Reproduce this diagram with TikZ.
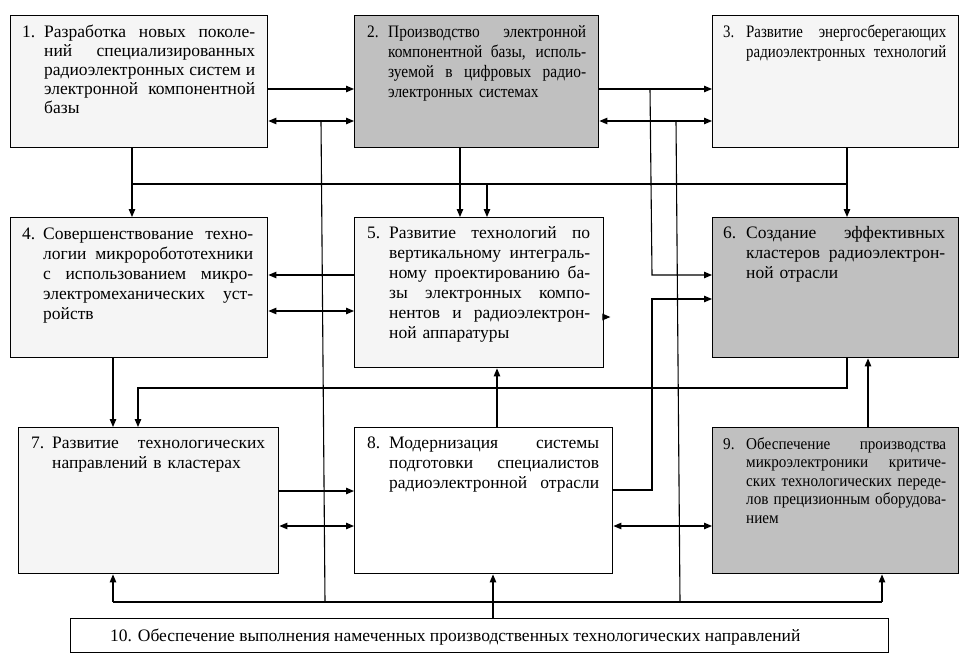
\documentclass[tikz,border=0pt]{standalone}
\usepackage{fontspec}
\setmainfont{Liberation Serif}
\newfontfamily\narrowA[FakeStretch=0.88]{Liberation Serif}
\newfontfamily\narrowC[FakeStretch=0.85]{Liberation Serif}
\newfontfamily\narrowB[FakeStretch=0.92]{Liberation Serif}
\usetikzlibrary{arrows.meta}
\definecolor{lightfill}{HTML}{F5F5F5}
\definecolor{darkfill}{HTML}{C0C0C0}
\newcommand\jl[1]{\makebox[\hsize][s]{\spaceskip=0pt\xspaceskip=0pt\relax #1}}
\newcommand\fs{\fontsize{17.5}{20}\selectfont}
\newcommand\fsa{\fontsize{17.5}{19.2}\selectfont}
\newcommand\fsn{\fontsize{16.5}{18.5}\selectfont}
\tikzset{
  box/.style={draw=black, line width=1.4pt, inner sep=0pt, anchor=north west},
  lightbox/.style={box, fill=lightfill},
  darkbox/.style={box, fill=darkfill},
  whitebox/.style={box, fill=white},
  num/.style={anchor=base west, inner sep=0pt, font=\fs},
  txt/.style={anchor=base west, inner sep=0pt, align=left, font=\fs},
  con/.style={line width=1.1pt, draw=black},
  arr/.style={con, -{Triangle[length=8pt,width=6.5pt]}},
  darr/.style={con, {Triangle[length=8pt,width=6.5pt]}-{Triangle[length=8pt,width=6.5pt]}}
}
\begin{document}
\begin{tikzpicture}[x=1pt,y=-1pt]
\fill[white] (0,0) rectangle (976,665);
\useasboundingbox (0,0) rectangle (976,665);

% boxes
\node[lightbox, minimum width=257pt, minimum height=132pt] (b1) at (10,15) {};
\node[darkbox,  minimum width=244pt, minimum height=132pt] (b2) at (354,15) {};
\node[lightbox, minimum width=246pt, minimum height=132pt] (b3) at (712,15) {};
\node[lightbox, minimum width=257pt, minimum height=140pt] (b4) at (10,217) {};
\node[lightbox, minimum width=249pt, minimum height=150pt] (b5) at (354,217) {};
\node[darkbox,  minimum width=246pt, minimum height=140pt] (b6) at (712,217) {};
\node[lightbox, minimum width=260pt, minimum height=146pt] (b7) at (18,427) {};
\node[whitebox, minimum width=258pt, minimum height=146pt] (b8) at (354,427) {};
\node[darkbox,  minimum width=246pt, minimum height=146pt] (b9) at (712,427) {};
\node[whitebox, minimum width=818pt, minimum height=34pt] (b10) at (70,618) {};

% texts
\node[num] (n1) at (22,37) {1.};
\node[txt, font=\fsa, text width=211pt] (t1) at (44,37) {\jl{Разработка новых поколе-}\\ \jl{ний специализированных}\\ \jl{радиоэлектронных систем и}\\ \jl{электронной компонентной}\\ базы};

\node[num, font=\narrowA\fs] (n2) at (367,37) {2.};
\node[txt, font=\narrowA\fs, text width=198pt] (t2) at (388,37) {\jl{Производство электронной}\\ \jl{компонентной базы, исполь-}\\ \jl{зуемой в цифровых радио-}\\ электронных системах};

\node[num, font=\narrowC\fs] (n3) at (723,37) {3.};
\node[txt, font=\narrowC\fs, text width=200pt] (t3) at (746,37) {\jl{Развитие энергосберегающих}\\ \jl{радиоэлектронных технологий}};

\node[num] (n4) at (22,239) {4.};
\node[txt, text width=210pt] (t4) at (43,239) {\jl{Совершенствование техно-}\\ \jl{логии микроробототехники}\\ \jl{с использованием микро-}\\ \jl{электромеханических уст-}\\ ройств};

\node[num] (n5) at (367,238) {5.};
\node[txt, text width=201pt] (t5) at (389,238) {\jl{Развитие технологий по}\\ \jl{вертикальному интеграль-}\\ \jl{ному проектированию ба-}\\ \jl{зы электронных компо-}\\ \jl{нентов и радиоэлектрон-}\\ ной аппаратуры};

\node[num] (n6) at (723,238) {6.};
\node[txt, text width=199pt] (t6) at (746,238) {\jl{Создание эффективных}\\ \jl{кластеров радиоэлектрон-}\\ ной отрасли};

\node[num] (n7) at (31,448) {7.};
\node[txt, text width=213pt] (t7) at (52,448) {\jl{Развитие технологических}\\ направлений в кластерах};

\node[num] (n8) at (367,448) {8.};
\node[txt, text width=210pt] (t8) at (389,448) {\jl{Модернизация системы}\\ \jl{подготовки специалистов}\\ \jl{радиоэлектронной отрасли}};

\node[num, font=\narrowB\fsn] (n9) at (723,449) {9.};
\node[txt, font=\narrowB\fsn, text width=200pt] (t9) at (746,449) {\jl{Обеспечение производства}\\ \jl{микроэлектроники критиче-}\\ \jl{ских технологических переде-}\\ \jl{лов прецизионным оборудова-}\\ нием};

\node[anchor=base west, inner sep=0pt, font=\fs] (t10) at (110,641) {10. Обеспечение выполнения намеченных производственных технологических направлений};

% coordinates
\coordinate (h1) at (132,184);
\coordinate (h2) at (847,184);
\coordinate (h3) at (487,184);
\coordinate (v1t) at (321,121);
\coordinate (v1b) at (325,602);
\coordinate (v2t) at (676,121);
\coordinate (v2b) at (680,602);
\coordinate (k1) at (650,89);
\coordinate (k2) at (652,275);
\coordinate (k3) at (652,490);
\coordinate (k4) at (652,299);
\coordinate (m1) at (847,388);
\coordinate (m2) at (138,388);
\coordinate (bl) at (113,602);
\coordinate (br) at (882,602);
\coordinate (bm) at (493,602);

% connectors top row
\draw[arr] (b1.east |- 0,89) -- (b2.west |- 0,89);
\draw[darr] (b1.east |- 0,121) -- (b2.west |- 0,121);
\draw[arr] (b2.east |- 0,89) -- (b3.west |- 0,89);
\draw[darr] (b2.east |- 0,121) -- (b3.west |- 0,121);
\draw[con] (v1t) -- (v1b);
\draw[con] (v2t) -- (v2b);

% bus at y=184
\draw[con] (h1) -- (h2);
\draw[arr] (b1.south -| h1) -- (b4.north -| h1);
\draw[arr] (b2.south -| 460,0) -- (b5.north -| 460,0);
\draw[arr] (h3) -- (b5.north -| h3);
\draw[arr] (b3.south -| h2) -- (b6.north -| h2);

% to box 6
\draw[arr] (k1) -- (k2) -- (b6.west |- k2);
\draw[arr] (b8.east |- k3) -- (k3) -- (k4) -- (b6.west |- k4);

% middle row
\draw[arr] (b5.west |- 0,275) -- (b4.east |- 0,275);
\draw[darr] (b4.east |- 0,311) -- (b5.west |- 0,311);
\draw[arr] (b5.east |- 0,317) -- ++(6,0);
\draw[arr] (b6.south -| m1) -- (m1) -- (m2) -- (b7.north -| m2);
\draw[arr] (b4.south -| 113,0) -- (b7.north -| 113,0);
\draw[arr] (b8.north -| 497,0) -- (b5.south -| 497,0);
\draw[arr] (b9.north -| 868,0) -- (b6.south -| 868,0);

% bottom row
\draw[arr] (b7.east |- 0,491) -- (b8.west |- 0,491);
\draw[darr] (b7.east |- 0,526) -- (b8.west |- 0,526);
\draw[darr] (b8.east |- 0,526) -- (b9.west |- 0,526);

% bottom bus
\draw[con] (bl) -- (br);
\draw[arr] (bl) -- (b7.south -| bl);
\draw[arr] (br) -- (b9.south -| br);
\draw[arr] (b10.north -| bm) -- (b8.south -| bm);
\end{tikzpicture}
\end{document}
